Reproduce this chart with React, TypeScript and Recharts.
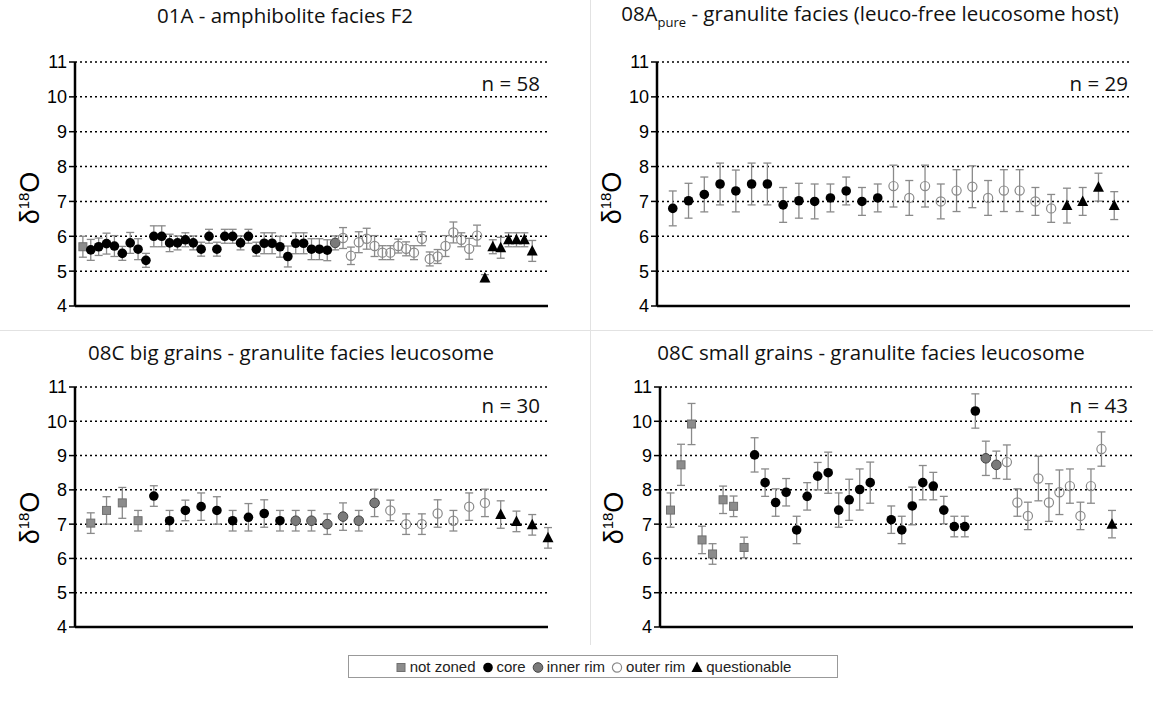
import { CartesianGrid, ErrorBar, Scatter, ScatterChart, XAxis, YAxis } from "recharts";

type Kind = "nz" | "core" | "inner" | "outer" | "q";

const kinds: Kind[] = ["nz", "core", "inner", "outer", "q"];
const kindLabels = ["not zoned", "core", "inner rim", "outer rim", "questionable"];
const yTicks = [4, 5, 6, 7, 8, 9, 10, 11];

// 01A - amphibolite facies F2 (n = 58)
const p1Groups: [Kind, number][] = [["nz", 1], ["core", 31], ["inner", 1], ["outer", 18], ["q", 7]];
const p1Values = [
  5.7,
  5.61, 5.7, 5.79, 5.72, 5.51, 5.81, 5.63, 5.31, 6.0, 6.0, 5.81, 5.81, 5.9, 5.81, 5.63, 6.0,
  5.63, 6.0, 6.0, 5.81, 6.0, 5.63, 5.8, 5.8, 5.7, 5.42, 5.8, 5.8, 5.63, 5.63, 5.6,
  5.81,
  5.95, 5.44, 5.83, 5.93, 5.72, 5.53, 5.53, 5.72, 5.64, 5.53, 5.93, 5.35, 5.42, 5.72, 6.11,
  5.9, 5.64, 6.02,
  4.8, 5.7, 5.67, 5.9, 5.9, 5.9, 5.58,
];
const p1Errors = [
  0.3,
  0.3, 0.25, 0.3, 0.3, 0.2, 0.3, 0.3, 0.2, 0.3, 0.3, 0.25, 0.2, 0.2, 0.2, 0.2, 0.2,
  0.2, 0.2, 0.2, 0.2, 0.2, 0.2, 0.3, 0.3, 0.3, 0.3, 0.3, 0.3, 0.3, 0.3, 0.3,
  0.2,
  0.3, 0.25, 0.3, 0.3, 0.3, 0.2, 0.2, 0.2, 0.2, 0.2, 0.2, 0.2, 0.2, 0.3, 0.3,
  0.2, 0.3, 0.3,
  0.1, 0.2, 0.3, 0.2, 0.2, 0.2, 0.3,
];

// 08A pure - granulite facies (n = 29)
const p2Groups: [Kind, number][] = [["core", 14], ["outer", 11], ["q", 4]];
const p2Values = [
  6.8, 7.02, 7.2, 7.5, 7.3, 7.5, 7.5, 6.9, 7.02, 7.0, 7.1, 7.3, 7.0, 7.1,
  7.44, 7.1, 7.44, 7.0, 7.31, 7.42, 7.1, 7.31, 7.31, 7.0, 6.8,
  6.88, 7.0, 7.41, 6.88,
];
const p2Errors = [
  0.5, 0.5, 0.5, 0.6, 0.6, 0.6, 0.6, 0.5, 0.5, 0.5, 0.4, 0.4, 0.4, 0.4,
  0.6, 0.5, 0.6, 0.5, 0.6, 0.6, 0.5, 0.6, 0.6, 0.4, 0.4,
  0.5, 0.4, 0.4, 0.4,
];

// 08C big grains (n = 30)
const p3Groups: [Kind, number][] = [["nz", 4], ["core", 9], ["inner", 6], ["outer", 7], ["q", 4]];
const p3Values = [
  7.03, 7.4, 7.62, 7.1,
  7.82, 7.1, 7.4, 7.51, 7.4, 7.1, 7.2, 7.31, 7.1,
  7.1, 7.1, 7.0, 7.22, 7.1, 7.62,
  7.4, 7.0, 7.0, 7.31, 7.1, 7.51, 7.62,
  7.28, 7.08, 6.98, 6.6,
];
const p3Errors = [
  0.3, 0.4, 0.45, 0.3,
  0.3, 0.3, 0.3, 0.4, 0.4, 0.3, 0.4, 0.4, 0.3,
  0.3, 0.3, 0.3, 0.4, 0.3, 0.4,
  0.3, 0.3, 0.3, 0.4, 0.3, 0.4, 0.4,
  0.4, 0.3, 0.3, 0.3,
];

// 08C small grains (n = 43), one empty slot
const p4Groups: [Kind, number][] = [["nz", 8], ["core", 21], ["inner", 2], ["outer", 10], ["q", 1]];
const p4Values = [
  7.41, 8.73, 9.92, 6.54, 6.13, 7.71, 7.52, 6.32,
  9.02, 8.21, 7.63, 7.93, 6.83, 7.81, 8.4, 8.5, 7.41, 7.71, 8.01, 8.21, null,
  7.13, 6.83, 7.53, 8.21, 8.11, 7.41, 6.93, 6.93, 10.3,
  8.92, 8.73,
  8.81, 7.63, 7.24, 8.33, 7.63, 7.93, 8.11, 7.24, 8.11, 9.19,
  7.0,
];
const p4Errors = [
  0.5, 0.6, 0.6, 0.4, 0.3, 0.4, 0.3, 0.3,
  0.5, 0.4, 0.4, 0.4, 0.4, 0.4, 0.4, 0.6, 0.5, 0.6, 0.6, 0.6, null,
  0.4, 0.4, 0.55, 0.5, 0.4, 0.4, 0.3, 0.3, 0.5,
  0.5, 0.4,
  0.5, 0.4, 0.4, 0.65, 0.55, 0.65, 0.5, 0.4, 0.5, 0.5,
  0.4,
];

type Row = { x: number; y: number; err: number; kind: Kind };

function buildRows(groups: [Kind, number][], values: (number | null)[], errors: (number | null)[]): Row[] {
  const seq: Kind[] = [];
  groups.forEach(([k, c]) => {
    for (let i = 0; i < c; i++) seq.push(k);
  });
  const rows: Row[] = [];
  let g = 0;
  values.forEach((v, i) => {
    if (v === null) return;
    rows.push({ x: i + 1, y: v, err: errors[i] as number, kind: seq[g] });
    g++;
  });
  return rows;
}

function Mark({ kind, cx, cy }: { kind: Kind; cx: number; cy: number }) {
  if (kind === "nz")
    return <rect x={cx - 4} y={cy - 4} width={8} height={8} fill="#8c8c8c" stroke="#707070" strokeWidth={1} />;
  if (kind === "core") return <circle cx={cx} cy={cy} r={4.8} fill="#000" />;
  if (kind === "inner") return <circle cx={cx} cy={cy} r={4.8} fill="#7a7a7a" stroke="#444" strokeWidth={1} />;
  if (kind === "outer") return <circle cx={cx} cy={cy} r={4.6} fill="none" stroke="#8a8a8a" strokeWidth={1.2} />;
  return <path d={`M${cx},${cy - 6} L${cx + 5.5},${cy + 4.5} L${cx - 5.5},${cy + 4.5} Z`} fill="#000" />;
}

type PanelProps = {
  left: number;
  top: number;
  height: number;
  rows: Row[];
  xMax: number;
  xTicks: number[];
};

function Panel({ left, top, height, rows, xMax, xTicks }: PanelProps) {
  return (
    <div style={{ position: "absolute", left, top }}>
      <ScatterChart width={560} height={height} margin={{ top: 62, right: 12, bottom: 0, left: 0 }}>
        <CartesianGrid vertical={false} stroke="#000" strokeDasharray="2 3" strokeWidth={1.5} />
        <XAxis
          type="number"
          dataKey="x"
          domain={[0, xMax]}
          ticks={xTicks}
          tick={false}
          tickSize={4}
          height={24}
          axisLine={{ stroke: "#000", strokeWidth: 2.5 }}
          tickLine={{ stroke: "#aaa" }}
        />
        <YAxis
          type="number"
          dataKey="y"
          domain={[4, 11]}
          ticks={yTicks}
          width={75}
          tickSize={6}
          axisLine={{ stroke: "#000", strokeWidth: 2.5 }}
          tickLine={{ stroke: "#000", strokeWidth: 1.5 }}
          tick={{ fill: "#000", fontSize: 18, fontFamily: "Liberation Sans, Arial, sans-serif" }}
        />
        {kinds.map((k) => (
          <Scatter
            key={k}
            data={rows.filter((r) => r.kind === k)}
            isAnimationActive={false}
            shape={(p: any) => <Mark kind={k} cx={p.cx} cy={p.cy} />}
          >
            <ErrorBar dataKey="err" direction="y" width={4} stroke="#8a8a8a" strokeWidth={1.3} />
          </Scatter>
        ))}
      </ScatterChart>
    </div>
  );
}

const titleStyle: React.CSSProperties = {
  position: "absolute",
  transform: "translate(-50%, -50%)",
  whiteSpace: "nowrap",
  fontFamily: "'Open Sans', sans-serif",
  fontSize: 20.5,
  color: "#111",
};

const nStyle: React.CSSProperties = {
  position: "absolute",
  transform: "translate(-100%, -50%)",
  whiteSpace: "nowrap",
  fontFamily: "'Open Sans', sans-serif",
  fontSize: 20.5,
  color: "#111",
};

function YLabel({ x, y }: { x: number; y: number }) {
  return (
    <div
      style={{
        position: "absolute",
        left: x,
        top: y,
        transform: "translate(-50%, -50%) rotate(-90deg)",
        whiteSpace: "nowrap",
        fontFamily: "Liberation Sans, Arial, sans-serif",
        fontSize: 27,
        color: "#000",
      }}
    >
      δ<sup style={{ fontSize: 15 }}>18</sup>O
    </div>
  );
}

function LegendBox() {
  return (
    <div
      style={{
        position: "absolute",
        left: 348,
        top: 655,
        width: 488,
        height: 21,
        border: "1px solid #999",
        display: "flex",
        alignItems: "center",
        justifyContent: "center",
        gap: 6,
        fontFamily: "Liberation Sans, Arial, sans-serif",
        fontSize: 15,
        color: "#222",
      }}
    >
      {kinds.map((k, i) => (
        <span key={k} style={{ display: "flex", alignItems: "center", gap: 3 }}>
          <svg width={12} height={12}>
            <Mark kind={k} cx={6} cy={6.5} />
          </svg>
          {kindLabels[i]}
        </span>
      ))}
    </div>
  );
}

export default function App() {
  const rows1 = buildRows(p1Groups, p1Values, p1Errors);
  const rows2 = buildRows(p2Groups, p2Values, p2Errors);
  const rows3 = buildRows(p3Groups, p3Values, p3Errors);
  const rows4 = buildRows(p4Groups, p4Values, p4Errors);
  return (
    <div style={{ position: "absolute", left: 0, top: 0, width: 1153, height: 707, background: "#fff", overflow: "hidden" }}>
      <div style={{ position: "absolute", left: 590, top: 0, width: 1, height: 645, background: "#e2e2e2" }} />
      <div style={{ position: "absolute", left: 0, top: 330, width: 1153, height: 1, background: "#e2e2e2" }} />

      <Panel left={0} top={0} height={330} rows={rows1} xMax={60} xTicks={[0, 10, 20, 30, 40, 50, 60]} />
      <Panel left={582} top={0} height={330} rows={rows2} xMax={30} xTicks={[0, 5, 10, 15, 20, 25, 30]} />
      <Panel left={0} top={325} height={326} rows={rows3} xMax={30} xTicks={[0, 5, 10, 15, 20, 25, 30]} />
      <Panel left={585} top={325} height={326} rows={rows4} xMax={45} xTicks={[0, 7.5, 15, 22.5, 30, 37.5, 45]} />

      <div style={{ ...titleStyle, left: 285, top: 15 }}>01A - amphibolite facies F2</div>
      <div style={{ ...titleStyle, left: 870, top: 15 }}>
        08A<sub style={{ fontSize: 13 }}>pure</sub> - granulite facies (leuco-free leucosome host)
      </div>
      <div style={{ ...titleStyle, left: 291, top: 352 }}>08C big grains - granulite facies leucosome</div>
      <div style={{ ...titleStyle, left: 871, top: 352 }}>08C small grains - granulite facies leucosome</div>

      <div style={{ ...nStyle, left: 540, top: 83 }}>n = 58</div>
      <div style={{ ...nStyle, left: 1128, top: 83 }}>n = 29</div>
      <div style={{ ...nStyle, left: 540, top: 405 }}>n = 30</div>
      <div style={{ ...nStyle, left: 1128, top: 405 }}>n = 43</div>

      <YLabel x={30} y={198} />
      <YLabel x={612} y={198} />
      <YLabel x={30} y={518} />
      <YLabel x={614} y={518} />

      <LegendBox />
    </div>
  );
}
